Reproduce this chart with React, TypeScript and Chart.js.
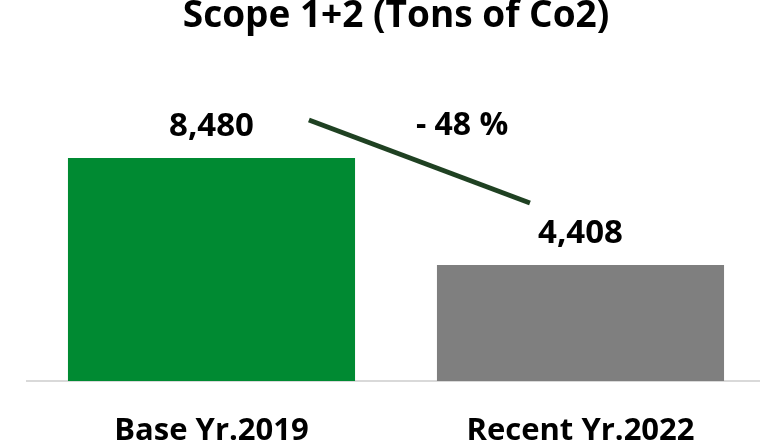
import React, { useEffect, useRef } from "react";
import { Chart, registerables } from "chart.js";

Chart.register(...registerables);

const categories = ["Base Yr.2019", "Recent Yr.2022"];
const emissions = [8480, 4408];
const barColors = ["#008A32", "#7F7F7F"];
const titleText = "Scope 1+2 (Tons of Co2)";
// connector line, in (category index, value) units
const connectorX = [0.264, 0.863];
const connectorY = [9924, 6768];
// change label position, in (category index, value) units
const changeLabelX = [0.679];
const changeLabelY = [9772];

const FONT = "'Open Sans', 'Noto Sans', sans-serif";

const fmt = (v: number) => v.toLocaleString("en-US");

const overlayPlugin = {
  id: "overlay",
  afterDatasetsDraw(chart: any) {
    const { ctx } = chart;
    const xs = chart.scales.x;
    const ys = chart.scales.y;
    const meta = chart.getDatasetMeta(0);
    ctx.save();
    // value labels
    ctx.fillStyle = "#000";
    ctx.font = `bold 33px ${FONT}`;
    ctx.textAlign = "center";
    ctx.textBaseline = "middle";
    meta.data.forEach((bar: any, i: number) => {
      ctx.fillText(fmt(emissions[i]), bar.x, bar.y - 31);
    });
    // connector
    ctx.strokeStyle = "#1F4122";
    ctx.lineWidth = 5;
    ctx.lineCap = "butt";
    ctx.beginPath();
    ctx.moveTo(xs.getPixelForValue(connectorX[0]), ys.getPixelForValue(connectorY[0]));
    ctx.lineTo(xs.getPixelForValue(connectorX[1]), ys.getPixelForValue(connectorY[1]));
    ctx.stroke();
    // change label
    const pct = Math.round(((emissions[1] - emissions[0]) / emissions[0]) * 100);
    const txt = `${pct < 0 ? "- " : "+ "}${Math.abs(pct)} %`;
    ctx.font = `bold 32px ${FONT}`;
    ctx.fillText(txt, xs.getPixelForValue(changeLabelX[0]), ys.getPixelForValue(changeLabelY[0]) + 2);
    ctx.restore();
  },
};

export default function App() {
  const ref = useRef<HTMLCanvasElement | null>(null);
  useEffect(() => {
    if (!ref.current) return;
    const chart = new Chart(ref.current, {
      type: "bar",
      data: {
        labels: categories,
        datasets: [
          {
            data: emissions,
            backgroundColor: barColors,
            barPercentage: 0.778,
            categoryPercentage: 1,
          },
        ],
      },
      options: {
        animation: false,
        responsive: false,
        maintainAspectRatio: false,
        layout: { padding: { left: 27, right: 0, top: 0, bottom: 0 } },
        plugins: {
          legend: { display: false },
          tooltip: { enabled: false },
          title: {
            display: true,
            text: titleText,
            color: "#000",
            font: { family: FONT, size: 37, weight: "bold", lineHeight: 0.9 },
            padding: { top: 0, bottom: 84.7 },
          },
        },
        scales: {
          x: {
            grid: { display: false, drawTicks: false },
            border: { display: true, color: "#D9D9D9", width: 2 },
            ticks: {
              color: "#000",
              padding: 32,
              font: { family: FONT, size: 31, weight: "bold" },
            },
            afterFit: (scale: any) => {
              scale.height = 65;
            },
          },
          y: {
            display: false,
            min: 0,
            max: 10000,
          },
        },
      },
      plugins: [overlayPlugin],
    });
    return () => chart.destroy();
  }, []);
  return (
    <div style={{ position: "fixed", left: 0, top: 0, width: 760, height: 446, overflow: "hidden", background: "#fff" }}>
      <canvas ref={ref} width={765} height={446} style={{ display: "block" }} />
    </div>
  );
}
